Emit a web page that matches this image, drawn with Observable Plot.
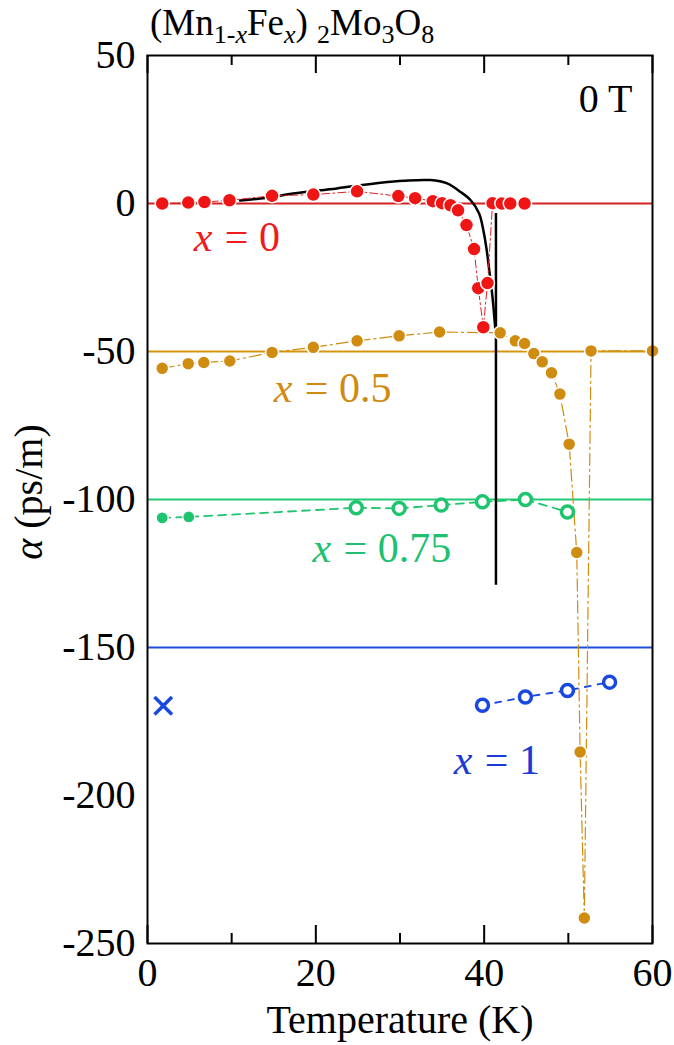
<!DOCTYPE html>
<html><head><meta charset="utf-8">
<script src="https://cdn.jsdelivr.net/npm/d3@7"></script>
<script src="https://cdn.jsdelivr.net/npm/@observablehq/plot@0.6"></script>
<style>body{margin:0;background:#fff}</style>
</head><body><div id="chart"></div>
<script>
// ---- data ----
const xTicks = [0, 20, 40, 60];
const xMinorTicks = [10, 30, 50];
const yTicks = [50, 0, -50, -100, -150, -200, -250];

// x = 0 (red, filled)
const T0 = [1.75, 4.84, 6.77, 9.74, 14.8, 19.7, 24.9, 29.8, 31.8, 33.9, 35.0, 36.0, 36.9, 37.9, 38.8, 39.3, 39.9, 40.4, 41.0, 42.1, 43.1, 44.8];
const A0 = [0, 0.3, 0.5, 1.1, 2.6, 3.0, 4.1, 2.5, 1.8, 0.8, 0.1, -0.6, -2.3, -7.3, -15.4, -28.6, -41.8, -26.9, 0.1, 0, 0, 0];

// x = 0.5 (gold, filled)
const T05 = [1.75, 4.84, 6.69, 9.78, 14.8, 19.7, 24.9, 29.9, 34.7, 41.9, 43.7, 44.8, 45.9, 46.9, 48.0, 49.0, 50.1, 51.0, 51.4, 51.9, 52.7, 60.0];
const A05 = [-55.7, -54.1, -53.7, -53.2, -50.3, -48.6, -46.4, -44.7, -43.4, -43.7, -46.4, -47.3, -50.7, -53.5, -57.2, -64.4, -81.3, -117.9, -185.3, -241.4, -49.8, -49.8];

// x = 0.75 (green): first two filled, rest open
const T075 = [1.75, 4.9, 24.8, 29.9, 34.9, 39.8, 44.9, 49.9];
const A075 = [-106.2, -105.9, -102.8, -103.0, -101.9, -100.8, -100.0, -104.2];
const filled075 = [true, true, false, false, false, false, false, false];

// x = 1 (blue, open) and the single cross
const T1 = [39.8, 44.9, 49.9, 54.9];
const A1 = [-169.5, -166.7, -164.5, -161.7];
const crossT = [1.87];
const crossA = [-169.7];

// black curve
const Tblack = [11.0, 14.5, 17.3, 22.5, 27.7, 30.5, 33.6, 35.6, 37.2, 38.4, 39.4, 39.9, 40.3, 40.6, 40.9, 41.1, 41.4];
const Ablack = [1.0, 2.0, 3.4, 5.1, 7.0, 7.7, 7.9, 6.8, 3.9, 1.1, -3.4, -9.0, -15.7, -22.5, -29.3, -34.9, -45];
const vertT = [41.4];
const vertTop = [-3.4];
const vertBottom = [-129];

// offset baselines
const baseValues = [0, -50, -100, -150];
const baseColors = ["#d42323", "#d4960f", "#22c974", "#1f4fd8"];
const xRange = [0, 60];

// labels
const labelT = [5.5, 15.0, 19.6, 36.4];
const labelA = [-15.9, -67.2, -121.2, -192.7];
const labelRest = ["= 0", "= 0.5", "= 0.75", "= 1"];
const labelColors = ["#ee1c1c", "#d08a10", "#20c070", "#1a3ad8"];

const RED = "#f01515", GOLD = "#d08c10", GREEN = "#1ec46e", BLUE = "#1848e0";
const font = "Liberation Serif, Times New Roman, serif";

const idx = (arr) => arr.map((_, i) => i);

const marks = [];
// baselines
baseValues.forEach((v, i) => {
  marks.push(Plot.ruleY([v], {x1: xRange[0], x2: xRange[1], stroke: baseColors[i], strokeWidth: 2}));
});
// black curve + vertical
marks.push(Plot.line(idx(Tblack), {x: i => Tblack[i], y: i => Ablack[i], stroke: "black", strokeWidth: 2.5, curve: "catmull-rom"}));
marks.push(Plot.ruleX(idx(vertT), {x: i => vertT[i], y1: i => vertTop[i], y2: i => vertBottom[i], stroke: "black", strokeWidth: 2.5}));

// connecting lines
marks.push(Plot.line(idx(T1), {x: i => T1[i], y: i => A1[i], stroke: BLUE, strokeWidth: 1.8, strokeDasharray: "6,7"}));
marks.push(Plot.line(idx(T075), {x: i => T075[i], y: i => A075[i], stroke: GREEN, strokeWidth: 1.8, strokeDasharray: "8,6"}));
marks.push(Plot.line(idx(T05), {x: i => T05[i], y: i => A05[i], stroke: GOLD, strokeWidth: 1.2, strokeDasharray: "12,4,2,4"}));
marks.push(Plot.line(idx(T0), {x: i => T0[i], y: i => A0[i], stroke: "#e02020", strokeWidth: 1, strokeDasharray: "8,3,2,3"}));

// markers
marks.push(Plot.dot(idx(T1), {x: i => T1[i], y: i => A1[i], r: 6, fill: "white", stroke: BLUE, strokeWidth: 3.5}));
marks.push(Plot.dot(idx(crossT), {x: i => crossT[i], y: i => crossA[i], r: 8, symbol: "times", stroke: BLUE, strokeWidth: 3.5}));
marks.push(Plot.dot(idx(T075).filter(i => !filled075[i]), {x: i => T075[i], y: i => A075[i], r: 6, fill: "white", stroke: GREEN, strokeWidth: 3.5}));
marks.push(Plot.dot(idx(T075).filter(i => filled075[i]), {x: i => T075[i], y: i => A075[i], r: 6, fill: GREEN, stroke: "white", strokeWidth: 1.2}));
marks.push(Plot.dot(idx(T05), {x: i => T05[i], y: i => A05[i], r: 6.5, fill: GOLD, stroke: "white", strokeWidth: 1.5}));
marks.push(Plot.dot(idx(T0), {x: i => T0[i], y: i => A0[i], r: 7, fill: RED, stroke: "white", strokeWidth: 1.5}));

// series labels: italic x then "= n"
marks.push(Plot.text(idx(labelT), {x: i => labelT[i], y: i => labelA[i], text: () => "x", fill: i => labelColors[i], fontFamily: font, fontStyle: "italic", fontSize: 42, textAnchor: "start", lineAnchor: "bottom"}));
marks.push(Plot.text(idx(labelT), {x: i => labelT[i], y: i => labelA[i], text: i => labelRest[i], fill: i => labelColors[i], fontFamily: font, fontSize: 42, textAnchor: "start", lineAnchor: "bottom", dx: 31}));

// 0 T
marks.push(Plot.text(["0 T"], {frameAnchor: "top-right", text: d => d, fontFamily: font, fontSize: 40, textAnchor: "end", lineAnchor: "bottom", dx: -20, dy: 56, fill: "black"}));

// ticks (inward), bottom and top
const plotH = 1045 - 55 - 102;
marks.push(Plot.tickX(xTicks, {x: d => d, insetTop: plotH - 18, stroke: "black", strokeWidth: 2}));
marks.push(Plot.tickX(xMinorTicks, {x: d => d, insetTop: plotH - 10, stroke: "black", strokeWidth: 2}));
marks.push(Plot.tickX(xTicks, {x: d => d, insetBottom: plotH - 18, stroke: "black", strokeWidth: 2}));
marks.push(Plot.tickX(xMinorTicks, {x: d => d, insetBottom: plotH - 10, stroke: "black", strokeWidth: 2}));

marks.push(Plot.axisX({ticks: xTicks, tickSize: 0, tickPadding: 14, fontSize: 40, fontFamily: font, label: null, tickFormat: d => `${d}`}));
marks.push(Plot.axisY({ticks: yTicks, tickSize: 0, tickPadding: 12, fontSize: 40, fontFamily: font, label: null, tickFormat: d => `${d}`}));
marks.push(Plot.frame({stroke: "black", strokeWidth: 2}));

const plot = Plot.plot({
  width: 674, height: 1045,
  marginTop: 55, marginBottom: 102, marginLeft: 147, marginRight: 22,
  style: {fontFamily: font, fontSize: "40px", background: "white", color: "black", overflow: "visible"},
  x: {domain: [0, 60]},
  y: {domain: [-250, 50]},
  marks
});
document.getElementById("chart").appendChild(plot);

// title with sub-/italic parts, axis titles
const svg = d3.select(plot);
const titleParts = [
  {t: "(Mn"}, {t: "1-", sub: true}, {t: "x", sub: true, it: true}, {t: "Fe"}, {t: "x", sub: true, it: true},
  {t: ")\u00a0"}, {t: "2", sub: true}, {t: "Mo"}, {t: "3", sub: true}, {t: "O"}, {t: "8", sub: true}
];
const title = svg.append("text").attr("x", 150).attr("y", 35).attr("text-anchor", "start")
  .attr("font-family", font).attr("font-size", 37).attr("fill", "black");
let cur = 0;
titleParts.forEach(p => {
  const target = p.sub ? 8 : 0;
  const ts = title.append("tspan").attr("dy", target - cur).attr("font-size", p.sub ? 26 : 37).text(p.t);
  if (p.it) ts.attr("font-style", "italic");
  cur = target;
});

const yl = svg.append("text").attr("transform", "translate(42,492) rotate(-90)").attr("text-anchor", "middle")
  .attr("font-family", font).attr("font-size", 40).attr("fill", "black");
yl.append("tspan").attr("font-style", "italic").text("α");
yl.append("tspan").text("\u00a0(ps/m)");

svg.append("text").attr("x", 400).attr("y", 1033).attr("text-anchor", "middle")
  .attr("font-family", font).attr("font-size", 40).attr("fill", "black").text("Temperature (K)");
</script>
</body></html>
